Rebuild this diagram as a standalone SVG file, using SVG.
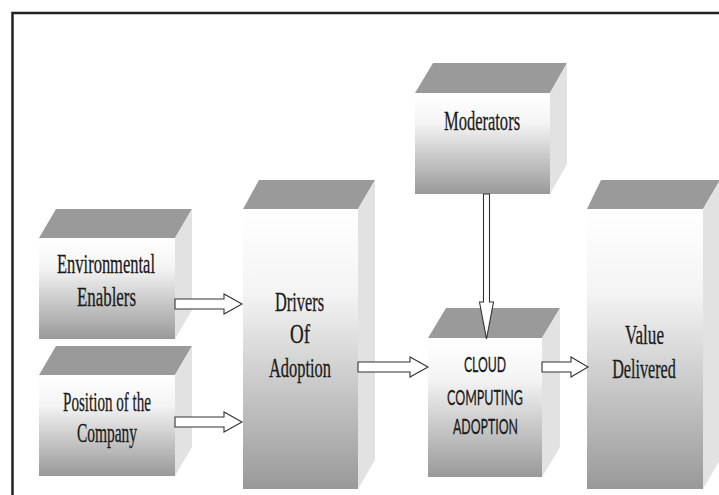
<svg xmlns="http://www.w3.org/2000/svg" width="719" height="495" viewBox="0 0 719 495">
<defs>
<linearGradient id="fg" x1="0" y1="0" x2="0" y2="1">
<stop offset="0" stop-color="#ffffff"/>
<stop offset="0.3" stop-color="#f4f4f4"/>
<stop offset="1" stop-color="#999999"/>
</linearGradient>
</defs>
<style>
.top{fill:#9a9a9a}
.side{fill:#e2e2e2}
.front{fill:url(#fg)}
.t{font-family:"Liberation Serif","Times New Roman",serif;font-size:28px;fill:#1a1a1a;stroke:#1a1a1a;stroke-width:0.3;text-anchor:middle}
.s{font-family:Lato,"Open Sans","Liberation Sans",sans-serif;font-size:22px;fill:#1a1a1a;stroke:#1a1a1a;stroke-width:0.3;text-anchor:middle}
.arr{fill:#ffffff;stroke:#333333;stroke-width:1.1;stroke-linejoin:miter}
</style>
<rect width="719" height="495" fill="#ffffff"/>
<path d="M12.5,495 V13 H719" fill="none" stroke="#222222" stroke-width="2.5"/>

<g id="environmental-enablers">
<polygon class="top" points="39,238 56,209 192,209 175,238"/>
<polygon class="side" points="175,238 192,209 192,310 175,339"/>
<rect class="front" x="39" y="238" width="136" height="101"/>
<text class="t" transform="translate(106 273) scale(0.59 1)" textLength="166" lengthAdjust="spacingAndGlyphs">Environmental</text>
<text class="t" transform="translate(106.5 306) scale(0.59 1)" textLength="100" lengthAdjust="spacingAndGlyphs">Enablers</text>
</g>

<g id="position-of-the-company">
<polygon class="top" points="39,375 56,346 192,346 175,375"/>
<polygon class="side" points="175,375 192,346 192,447 175,476"/>
<rect class="front" x="39" y="375" width="136" height="101"/>
<text class="t" transform="translate(107 411) scale(0.59 1)" textLength="149" lengthAdjust="spacingAndGlyphs">Position of the</text>
<text class="t" transform="translate(107 442) scale(0.59 1)" textLength="102" lengthAdjust="spacingAndGlyphs">Company</text>
</g>

<g id="drivers-of-adoption">
<polygon class="top" points="243,209 259,180 375,180 358,209"/>
<polygon class="side" points="358,209 375,180 375,460 358,489"/>
<rect class="front" x="243" y="209" width="115" height="280"/>
<text class="t" transform="translate(299.5 311) scale(0.59 1)" textLength="83" lengthAdjust="spacingAndGlyphs">Drivers</text>
<text class="t" transform="translate(300 343) scale(0.59 1)" textLength="34" lengthAdjust="spacingAndGlyphs">Of</text>
<text class="t" transform="translate(300 377) scale(0.59 1)" textLength="105" lengthAdjust="spacingAndGlyphs">Adoption</text>
</g>

<g id="moderators">
<polygon class="top" points="415,93 433,63 567,63 550,93"/>
<polygon class="side" points="550,93 567,63 567,164 550,194"/>
<rect class="front" x="415" y="93" width="135" height="101"/>
<text class="t" transform="translate(482 130) scale(0.59 1)" textLength="129" lengthAdjust="spacingAndGlyphs">Moderators</text>
</g>

<g id="cloud-computing-adoption">
<polygon class="top" points="428,338 446,308 560,308 542,338"/>
<polygon class="side" points="542,338 560,308 560,447 542,477"/>
<rect class="front" x="428" y="338" width="114" height="139"/>
<text class="s" transform="translate(485 372) scale(0.57 1)" textLength="74" lengthAdjust="spacingAndGlyphs">CLOUD</text>
<text class="s" transform="translate(485 405) scale(0.57 1)" textLength="133" lengthAdjust="spacingAndGlyphs">COMPUTING</text>
<text class="s" transform="translate(485.5 434) scale(0.57 1)" textLength="114" lengthAdjust="spacingAndGlyphs">ADOPTION</text>
</g>

<g id="value-delivered">
<polygon class="top" points="587,209 601,180 720,180 703,209"/>
<polygon class="side" points="703,209 720,180 720,460 703,489"/>
<rect class="front" x="587" y="209" width="116" height="280"/>
<text class="t" transform="translate(644.5 344) scale(0.59 1)" textLength="66" lengthAdjust="spacingAndGlyphs">Value</text>
<text class="t" transform="translate(644 378) scale(0.59 1)" textLength="108" lengthAdjust="spacingAndGlyphs">Delivered</text>
</g>

<g id="connectors">
<polygon class="arr" points="175,299 224,299 224,294 242,304 224,314 224,309 175,309"/>
<polygon class="arr" points="175,417 224,417 224,412 242,422 224,432 224,427 175,427"/>
<polygon class="arr" points="358,362 410,362 410,357 428,367 410,377 410,372 358,372"/>
<polygon class="arr" points="542,362 571,362 571,357 588,367 571,377 571,372 542,372"/>
<polygon class="arr" points="483.5,194 489.5,194 489.5,302 493.5,302 486.5,339 479.5,302 483.5,302"/>
</g>
</svg>
